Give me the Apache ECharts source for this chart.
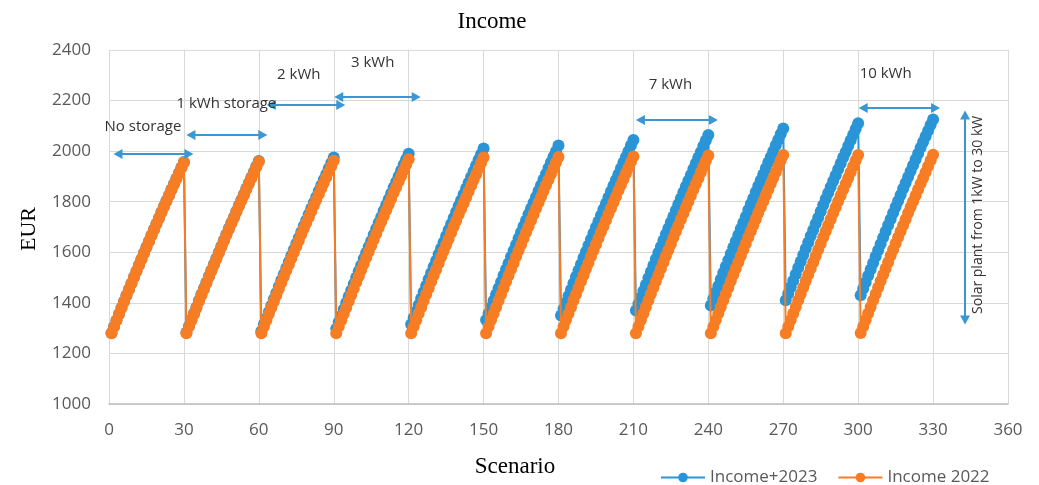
<!DOCTYPE html>
<html>
<head>
<meta charset="utf-8">
<script src="https://cdn.jsdelivr.net/npm/echarts@6/dist/echarts.min.js"></script>
<style>
  html, body { margin: 0; padding: 0; background: #fff; }
  #chart { width: 1039px; height: 485px; }
</style>
</head>
<body>
<div id="chart"></div>
<script>
// Income per scenario: 11 storage configurations x 30 plant sizes (1 kW .. 30 kW)
const storageGroups = ['No storage', '1 kWh storage', '2 kWh', '3 kWh', '4 kWh', '5 kWh', '6 kWh', '7 kWh', '8 kWh', '9 kWh', '10 kWh'];
const plantSizesPerGroup = 30;

// Income 2022 (EUR), one row per storage configuration
const income2022 = [
  [1280,1305,1330,1355,1380,1404,1429,1453,1477,1501,1525,1549,1572,1596,1619,1643,1666,1689,1712,1734,1757,1780,1802,1824,1846,1868,1890,1912,1934,1955],
  [1280,1305,1330,1355,1380,1405,1430,1454,1478,1502,1526,1550,1573,1597,1621,1645,1668,1691,1714,1736,1759,1782,1804,1826,1849,1871,1893,1915,1937,1958],
  [1280,1305,1331,1356,1381,1405,1430,1455,1479,1503,1528,1551,1575,1599,1623,1646,1670,1693,1716,1739,1762,1785,1807,1830,1852,1874,1897,1918,1940,1962],
  [1280,1306,1331,1356,1381,1406,1431,1456,1481,1505,1530,1554,1578,1602,1626,1650,1673,1697,1720,1743,1766,1789,1812,1835,1857,1880,1902,1924,1946,1968],
  [1280,1306,1331,1357,1382,1408,1433,1458,1483,1508,1532,1557,1581,1605,1629,1653,1677,1701,1724,1748,1771,1794,1817,1840,1863,1886,1908,1931,1953,1975],
  [1280,1306,1332,1357,1383,1408,1433,1458,1483,1508,1533,1557,1582,1606,1630,1654,1678,1702,1726,1749,1773,1796,1819,1842,1865,1887,1910,1932,1955,1977],
  [1280,1306,1332,1357,1383,1409,1434,1459,1484,1509,1534,1558,1583,1607,1631,1656,1680,1703,1727,1751,1774,1797,1820,1844,1866,1889,1912,1934,1957,1979],
  [1280,1306,1332,1358,1384,1409,1435,1460,1485,1510,1535,1560,1585,1609,1633,1658,1682,1706,1730,1753,1777,1800,1824,1847,1870,1893,1916,1938,1961,1983],
  [1280,1306,1332,1358,1384,1410,1435,1460,1486,1511,1536,1561,1585,1610,1634,1659,1683,1707,1731,1755,1778,1802,1825,1848,1871,1894,1917,1940,1963,1985],
  [1280,1306,1332,1358,1384,1410,1435,1461,1486,1511,1536,1561,1585,1610,1634,1659,1683,1707,1731,1755,1778,1802,1825,1848,1871,1894,1917,1940,1963,1985],
  [1281,1306,1332,1358,1384,1410,1435,1461,1486,1511,1536,1561,1586,1610,1635,1659,1683,1707,1731,1755,1779,1802,1825,1848,1871,1894,1917,1940,1963,1986]
];

// Income 2023 (EUR), one row per storage configuration
const income2023 = [
  [1281,1306,1331,1356,1381,1405,1430,1454,1478,1502,1526,1550,1573,1597,1621,1644,1667,1690,1713,1736,1759,1781,1804,1826,1848,1870,1892,1914,1935,1957],
  [1283,1308,1333,1358,1383,1408,1433,1457,1481,1505,1529,1553,1576,1600,1624,1648,1671,1694,1717,1739,1762,1785,1807,1829,1852,1874,1896,1918,1940,1961],
  [1288,1314,1339,1364,1389,1414,1439,1464,1489,1513,1538,1562,1586,1610,1634,1657,1680,1704,1727,1750,1773,1796,1819,1842,1864,1887,1909,1931,1953,1975],
  [1298,1324,1349,1375,1400,1425,1450,1475,1500,1525,1549,1574,1598,1622,1645,1669,1693,1717,1740,1764,1787,1810,1833,1856,1878,1901,1923,1946,1968,1990],
  [1315,1341,1366,1392,1417,1443,1468,1493,1518,1543,1567,1592,1616,1640,1664,1688,1712,1736,1759,1783,1806,1829,1852,1875,1898,1921,1943,1966,1988,2010],
  [1332,1358,1383,1408,1433,1458,1483,1508,1533,1557,1582,1606,1630,1655,1679,1703,1726,1750,1773,1796,1819,1842,1865,1888,1910,1933,1956,1978,2000,2022],
  [1350,1376,1401,1427,1452,1478,1503,1528,1553,1578,1602,1627,1651,1675,1699,1722,1746,1770,1793,1817,1840,1863,1886,1909,1932,1955,1977,2000,2022,2044],
  [1370,1396,1421,1447,1472,1498,1523,1548,1573,1598,1622,1647,1671,1695,1719,1742,1766,1790,1813,1837,1860,1883,1906,1929,1952,1975,1997,2020,2042,2064],
  [1390,1416,1442,1467,1493,1519,1544,1569,1594,1619,1644,1668,1693,1717,1741,1767,1791,1814,1838,1862,1885,1908,1931,1955,1977,2000,2023,2045,2068,2090],
  [1410,1436,1462,1487,1513,1539,1564,1589,1614,1639,1664,1688,1713,1737,1761,1787,1811,1834,1858,1882,1905,1928,1951,1975,1997,2020,2043,2065,2088,2110],
  [1430,1456,1481,1507,1532,1558,1583,1608,1633,1658,1682,1707,1731,1755,1779,1803,1827,1851,1874,1898,1921,1944,1967,1990,2013,2036,2058,2081,2103,2125]
];

// Axis ticks
const xTicks = { min: 0, max: 360, step: 30 };
const yTicks = { min: 1000, max: 2400, step: 200 };

// Annotation arrows: [label, fromScenario, toScenario, eur]
const storageArrows = [
  ['No storage', 3.6, 32, 1989],
  ['1 kWh storage', 32.8, 61.6, 2064],
  ['2 kWh', 65, 92.8, 2182],
  ['3 kWh', 92, 123, 2214],
  ['7 kWh', 212.8, 242, 2123],
  ['10 kWh', 302, 331, 2171]
];
// Annotation labels: [text, scenario, eur]
const storageLabels = [
  ['No storage', 13.6, 2096],
  ['1 kWh storage', 47, 2186],
  ['2 kWh', 76, 2301],
  ['3 kWh', 105.6, 2349],
  ['7 kWh', 224.8, 2262],
  ['10 kWh', 311, 2305]
];
// Plant size range arrow and its caption
const plantArrow = [342.8, 2143, 1332];
const plantLabel = ['Solar plant from 1kW to 30 kW', 347.8, 1748];

function toPoints(groups) {
  const pts = [];
  groups.forEach((row, g) => {
    row.forEach((v, i) => pts.push([g * plantSizesPerGroup + i + 1, v]));
  });
  return pts;
}

const BLUE = '#2A95D6';
const ORANGE = '#F77D24';
const ARROW = '#3B97D3';
const LABEL_FONT = 'Open Sans';
const SERIF = 'Liberation Serif';

const chart = echarts.init(document.getElementById('chart'), null, { renderer: 'canvas' });

const arrowLines = storageArrows.map(a => [
  { coord: [a[1], a[3]] },
  { coord: [a[2], a[3]] }
]);
arrowLines.push([{ coord: [plantArrow[0], plantArrow[1]] }, { coord: [plantArrow[0], plantArrow[2]] }]);

const labelPoints = storageLabels.map(l => ({
  coord: [l[1], l[2]],
  label: { formatter: l[0] }
}));
labelPoints.push({
  coord: [plantLabel[1], plantLabel[2]],
  label: { formatter: plantLabel[0], rotate: 90, fontSize: 14 }
});

chart.setOption({
  animation: false,
  backgroundColor: '#ffffff',
  grid: { left: 109, right: 31, top: 50, bottom: 81, containLabel: false },
  xAxis: {
    type: 'value',
    min: xTicks.min, max: xTicks.max, interval: xTicks.step,
    axisLine: { show: true, lineStyle: { color: '#bfbfbf', width: 1.5 } },
    axisTick: { show: false },
    axisLabel: { color: '#595959', fontSize: 17, fontFamily: LABEL_FONT, margin: 18, formatter: v => String(v) },
    splitLine: { show: true, lineStyle: { color: '#d9d9d9', width: 1 } }
  },
  yAxis: {
    type: 'value',
    min: yTicks.min, max: yTicks.max, interval: yTicks.step,
    axisLine: { show: true, lineStyle: { color: '#d9d9d9' } },
    axisTick: { show: false },
    axisLabel: { color: '#595959', fontSize: 17, fontFamily: LABEL_FONT, margin: 18, formatter: v => String(v) },
    splitLine: { show: true, lineStyle: { color: '#d9d9d9', width: 1 } }
  },
  legend: {
    data: ['Income+2023', 'Income 2022'],
    left: 655, top: 464,
    itemWidth: 44, itemHeight: 12, itemGap: 20,
    textStyle: { color: '#595959', fontSize: 17, fontFamily: LABEL_FONT }
  },
  graphic: [
    { type: 'text', x: 492, y: 22, style: { text: 'Income', font: '23px "' + SERIF + '"', fill: '#000', textAlign: 'center', textVerticalAlign: 'middle', align: 'center', verticalAlign: 'middle' } },
    { type: 'text', x: 29, y: 229, rotation: Math.PI / 2, style: { text: 'EUR', font: '22px "' + SERIF + '"', fill: '#000', textAlign: 'center', textVerticalAlign: 'middle', align: 'center', verticalAlign: 'middle' } },
    { type: 'text', x: 515, y: 467, style: { text: 'Scenario', font: '23px "' + SERIF + '"', fill: '#000', textAlign: 'center', textVerticalAlign: 'middle', align: 'center', verticalAlign: 'middle' } }
  ],
  series: [
    {
      name: 'Income+2023',
      type: 'line',
      data: toPoints(income2023),
      symbol: 'circle', symbolSize: 12, showSymbol: true,
      lineStyle: { color: BLUE, width: 2 },
      itemStyle: { color: BLUE },
      z: 2
    },
    {
      name: 'Income 2022',
      type: 'line',
      data: toPoints(income2022),
      symbol: 'circle', symbolSize: 12, showSymbol: true,
      lineStyle: { color: ORANGE, width: 2 },
      itemStyle: { color: ORANGE },
      z: 3
    },
    {
      name: 'annotations',
      type: 'line',
      data: [],
      z: 5,
      markLine: {
        silent: true,
        symbol: ['triangle', 'triangle'],
        symbolSize: [10, 9],
        lineStyle: { color: ARROW, width: 2, type: 'solid' },
        itemStyle: { color: ARROW },
        label: { show: false },
        data: arrowLines
      },
      markPoint: {
        silent: true,
        symbol: 'circle',
        symbolSize: 1,
        itemStyle: { color: 'rgba(0,0,0,0)' },
        label: { show: true, position: 'inside', color: '#333333', fontSize: 15, fontFamily: LABEL_FONT },
        data: labelPoints
      }
    }
  ]
});
</script>
</body>
</html>
